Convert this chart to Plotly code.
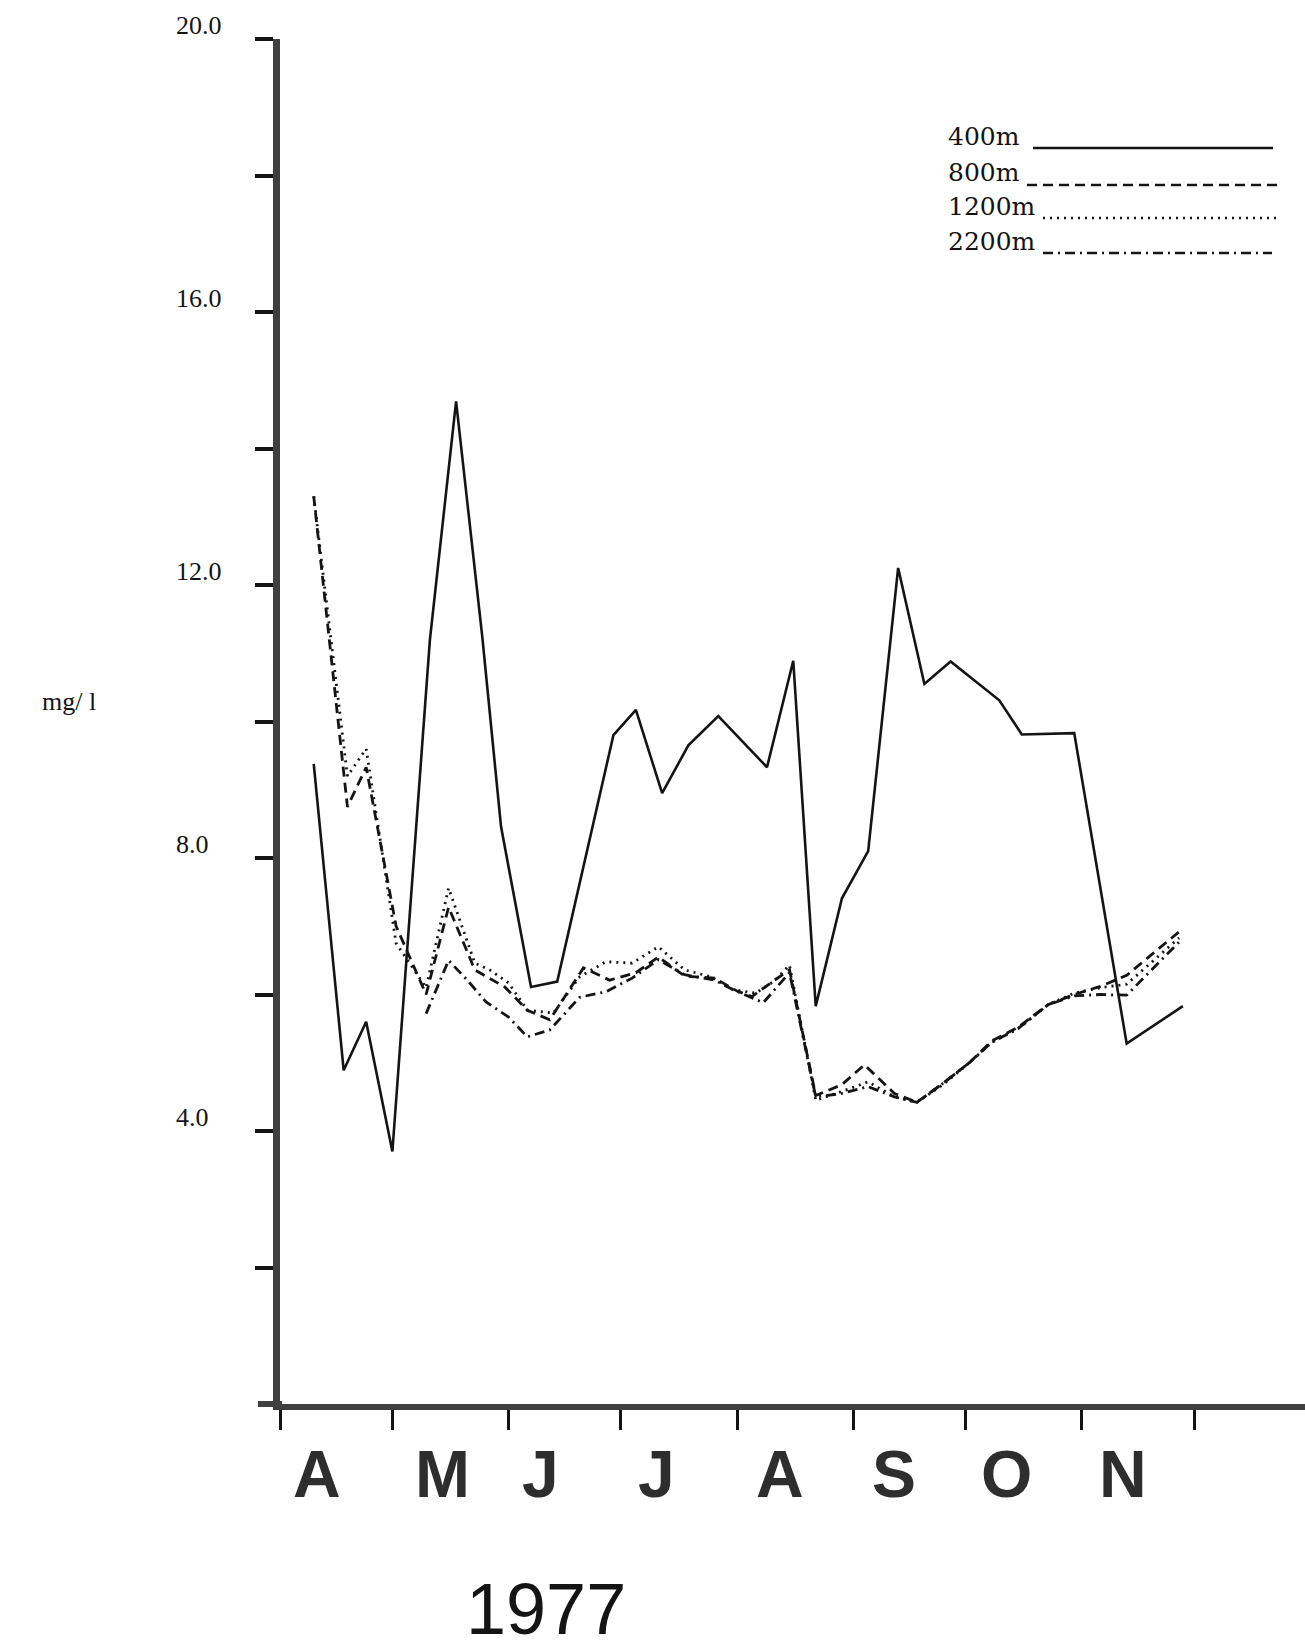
import plotly.graph_objects as go
import pandas as pd

# ---------------- data ----------------
START = "1977-04-01"          # x values are days after 1 April 1977

days_400 = [9, 17, 23, 30, 40, 47, 54, 59, 67, 74, 89, 95, 102, 109, 117, 130, 137, 143,
            150, 157, 165, 172, 179, 192, 198, 212, 226, 241]
mg_400 = [9.38, 4.89, 5.60, 3.70, 11.19, 14.69, 11.24, 8.46, 6.11, 6.19, 9.80, 10.17, 8.95,
          9.65, 10.08, 9.33, 10.89, 5.83, 7.41, 8.10, 12.25, 10.55, 10.88, 10.31, 9.81, 9.83,
          5.28, 5.83]

days_800 = [9, 18, 23, 31, 39, 45, 52, 60, 66, 72, 81, 88, 95, 101, 108, 116, 122, 126, 132,
            136, 143, 150, 156, 164, 170, 177, 184, 190, 197, 205, 212, 219, 226, 240]
mg_800 = [13.30, 8.75, 9.33, 7.00, 6.00, 7.28, 6.36, 6.11, 5.77, 5.63, 6.39, 6.21, 6.32, 6.55,
          6.27, 6.24, 6.05, 5.97, 6.21, 6.36, 4.52, 4.68, 4.97, 4.55, 4.42, 4.70, 5.00, 5.32,
          5.52, 5.85, 6.00, 6.12, 6.28, 6.92]

days_1200 = [9, 18, 23, 31, 39, 45, 52, 56, 61, 66, 73, 80, 87, 94, 101, 108, 115, 121, 127,
             132, 136, 143, 150, 157, 164, 170, 177, 184, 190, 197, 205, 212, 219, 226, 240]
mg_1200 = [13.30, 9.20, 9.60, 6.75, 6.10, 7.56, 6.46, 6.36, 6.17, 5.77, 5.73, 6.26, 6.48, 6.46,
           6.70, 6.36, 6.26, 6.07, 6.02, 6.20, 6.43, 4.45, 4.58, 4.72, 4.50, 4.42, 4.68, 5.00,
           5.30, 5.50, 5.85, 6.02, 6.10, 6.15, 6.83]

days_2200 = [39, 45, 50, 55, 61, 66, 72, 80, 87, 94, 101, 108, 116, 121, 129, 136, 143, 150,
             157, 164, 170, 177, 184, 190, 197, 205, 212, 219, 226, 240]
mg_2200 = [5.72, 6.50, 6.21, 5.89, 5.67, 5.38, 5.48, 5.96, 6.04, 6.24, 6.51, 6.29, 6.21, 6.07,
           5.88, 6.32, 4.50, 4.55, 4.65, 4.50, 4.42, 4.70, 5.00, 5.30, 5.50, 5.85, 5.98, 6.00,
           5.99, 6.77]

series_names = ["400m", "800m", "1200m", "2200m"]

month_starts = ["1977-04-01", "1977-05-01", "1977-06-01", "1977-07-01", "1977-08-01",
                "1977-09-01", "1977-10-01", "1977-11-01", "1977-12-01"]
month_letters = ["A", "M", "J", "J", "A", "S", "O", "N"]

y_tick_values = [2, 4, 6, 8, 10, 12, 14, 16, 18, 20]
y_label_values = [4, 8, 12, 16, 20]
y_label_texts = ["4.0", "8.0", "12.0", "16.0", "20.0"]
y_title = "mg/ l"
year_text = "1977"

# ---------------- layout geometry (pixels) ----------------
W, H = 1305, 1651
PL, PT, PW, PH = 280, 39, 1025, 1365   # plot area left, top, width, height
X_END_DAYS = 273.6
LETTER_OFFSETS = [10, 13.5, 8.5, 9.5, 11.5, 11, 11, 11]   # days after month start

start = pd.Timestamp(START)


def to_dates(days):
    return [start + pd.Timedelta(days=d) for d in days]


def px(X):
    return (X - PL) / PW


def py(Y):
    return (PT + PH - Y) / PH


INK = "#141414"
AXIS = "#3f3f3f"

styles = [
    dict(dash="solid", width=2.6),
    dict(dash="10px,6px", width=2.8),
    dict(dash="2px,5px", width=2.8),
    dict(dash="10px,5px,2px,5px", width=2.8),
]
all_days = [days_400, days_800, days_1200, days_2200]
all_vals = [mg_400, mg_800, mg_1200, mg_2200]

fig = go.Figure()
for name, d, v, st in zip(series_names, all_days, all_vals, styles):
    fig.add_trace(go.Scatter(
        x=to_dates(d), y=v, mode="lines", name=name, showlegend=False,
        line=dict(color=INK, width=st["width"], dash=st["dash"]),
    ))

annotations = []
shapes = []

# y tick labels (left aligned, raised above ticks)
for val, txt in zip(y_label_values, y_label_texts):
    annotations.append(dict(
        x=px(174), xref="paper", xanchor="left",
        y=val, yref="y", yanchor="middle", yshift=14,
        text=txt, showarrow=False,
        font=dict(family="Liberation Serif", size=26, color=INK),
    ))

# y axis title
annotations.append(dict(
    x=px(40), xref="paper", xanchor="left", y=py(701), yref="paper", yanchor="middle",
    text=y_title, showarrow=False,
    font=dict(family="Liberation Serif", size=26, color=INK),
))

# month letters
for ms, letter, off in zip(month_starts[:-1], month_letters, LETTER_OFFSETS):
    xd = pd.Timestamp(ms) + pd.Timedelta(days=off)
    annotations.append(dict(
        x=xd, xref="x", xanchor="center", y=py(1474), yref="paper", yanchor="middle",
        text="<b>" + letter + "</b>", showarrow=False,
        font=dict(family="Liberation Sans", size=66, color="#2e2e2e"),
    ))

# year
annotations.append(dict(
    x=px(546), xref="paper", xanchor="center", y=py(1651), yref="paper", yanchor="bottom",
    text=year_text, showarrow=False,
    font=dict(family="Liberation Sans", size=72, color=INK),
))

# legend (text left, line sample right)
leg_text_y = [137, 173, 206, 241]
leg_line = [(1033, 1273, 148), (1027, 1280, 185), (1043, 1280, 218), (1043, 1272, 253)]
for name, ty, (x0, x1, ly), st in zip(series_names, leg_text_y, leg_line, styles):
    annotations.append(dict(
        x=px(946), xref="paper", xanchor="left", y=py(ty), yref="paper", yanchor="middle",
        text=name, showarrow=False,
        font=dict(family="DejaVu Serif", size=25, color=INK),
    ))
    shapes.append(dict(
        type="line", xref="paper", yref="paper",
        x0=px(x0), x1=px(x1), y0=py(ly), y1=py(ly),
        line=dict(color=INK, width=2.4, dash=st["dash"]),
    ))

# small overshoot of x axis to the left of the y axis
shapes.append(dict(type="line", xref="paper", yref="paper",
                   x0=px(258), x1=px(282), y0=0, y1=0,
                   line=dict(color=AXIS, width=6)))

fig.update_layout(
    width=W, height=H,
    margin=dict(l=PL, r=W - PL - PW, t=PT, b=H - PT - PH),
    paper_bgcolor="white", plot_bgcolor="white",
    showlegend=False,
    annotations=annotations,
    shapes=shapes,
    xaxis=dict(
        type="date",
        range=[start, start + pd.Timedelta(days=X_END_DAYS)],
        showline=True, linecolor=AXIS, linewidth=6,
        ticks="outside", tickvals=month_starts, ticklen=20, tickwidth=3, tickcolor=INK,
        showticklabels=False, showgrid=False, zeroline=False,
    ),
    yaxis=dict(
        range=[0, 20],
        showline=True, linecolor=AXIS, linewidth=7,
        ticks="outside", tickvals=y_tick_values, ticklen=18, tickwidth=3.5, tickcolor=INK,
        showticklabels=False, showgrid=False, zeroline=False,
    ),
)

fig.write_html("out.html")
